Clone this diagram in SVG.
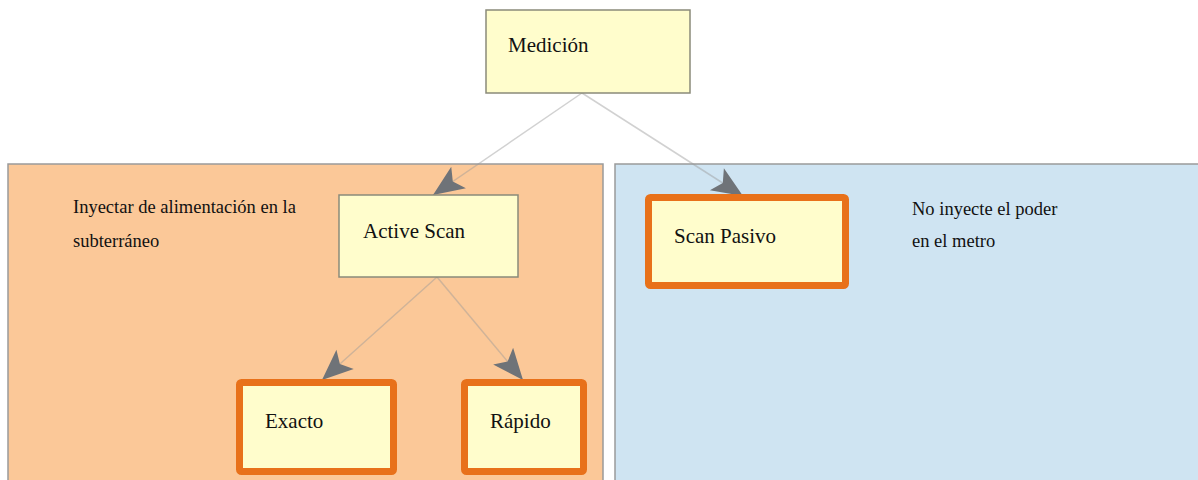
<svg xmlns="http://www.w3.org/2000/svg" width="1198" height="480" viewBox="0 0 1198 480">
<style>
.node{fill:#FFFDCC;stroke:#8A8A7A;stroke-width:1.5}
.hl{fill:#FFFDCC;stroke:#E8711A;stroke-width:7}
.lbl{font-family:"Liberation Serif","Times New Roman",serif;font-size:21px;fill:#111}
.note{font-family:"Liberation Serif","Times New Roman",serif;font-size:18.5px;fill:#111}
.edge{stroke:#9A9A9A;stroke-opacity:0.45;stroke-width:1.5;fill:none}
</style>
<defs>
<marker id="arr" markerUnits="userSpaceOnUse" markerWidth="36" markerHeight="32" viewBox="-33 -15 36 30" refX="0" refY="0" orient="auto">
<path d="M0,0 L-31,-13 L-24,0 L-31,13 Z" fill="#6F7378"/>
</marker>
</defs>
<rect width="1198" height="480" fill="#fff"/>
<g id="group-active">
<rect x="8" y="164" width="595" height="330" fill="#FBC898" stroke="#9A9A9A" stroke-width="1.5"/>
<text class="note" x="73" y="213">Inyectar de alimentación en la</text>
<text class="note" x="73" y="247">subterráneo</text>
</g>
<g id="group-passive">
<rect x="615" y="164" width="600" height="330" fill="#CFE4F2" stroke="#9A9A9A" stroke-width="1.5"/>
<text class="note" x="912" y="215">No inyecte el poder</text>
<text class="note" x="912" y="247">en el metro</text>
</g>
<g id="connectors">
<line class="edge" x1="582" y1="93" x2="433" y2="195" marker-end="url(#arr)"/>
<line class="edge" x1="582" y1="93" x2="743" y2="196" marker-end="url(#arr)"/>
<line class="edge" x1="437" y1="277" x2="322" y2="380" marker-end="url(#arr)"/>
<line class="edge" x1="437" y1="277" x2="523" y2="380" marker-end="url(#arr)"/>
</g>
<g id="medicion">
<rect class="node" x="486" y="10" width="204" height="83"/>
<text class="lbl" x="508" y="52">Medición</text>
</g>
<g id="active-scan">
<rect class="node" x="339" y="195" width="179" height="82"/>
<text class="lbl" x="363" y="238">Active Scan</text>
</g>
<g id="scan-pasivo">
<rect class="hl" x="648.5" y="197.5" width="197" height="88" rx="2"/>
<text class="lbl" x="674" y="243">Scan Pasivo</text>
</g>
<g id="exacto">
<rect class="hl" x="239.5" y="382.5" width="154" height="89" rx="2"/>
<text class="lbl" x="265" y="428">Exacto</text>
</g>
<g id="rapido">
<rect class="hl" x="464.5" y="382.5" width="119" height="89" rx="2"/>
<text class="lbl" x="490" y="428">Rápido</text>
</g>
</svg>
